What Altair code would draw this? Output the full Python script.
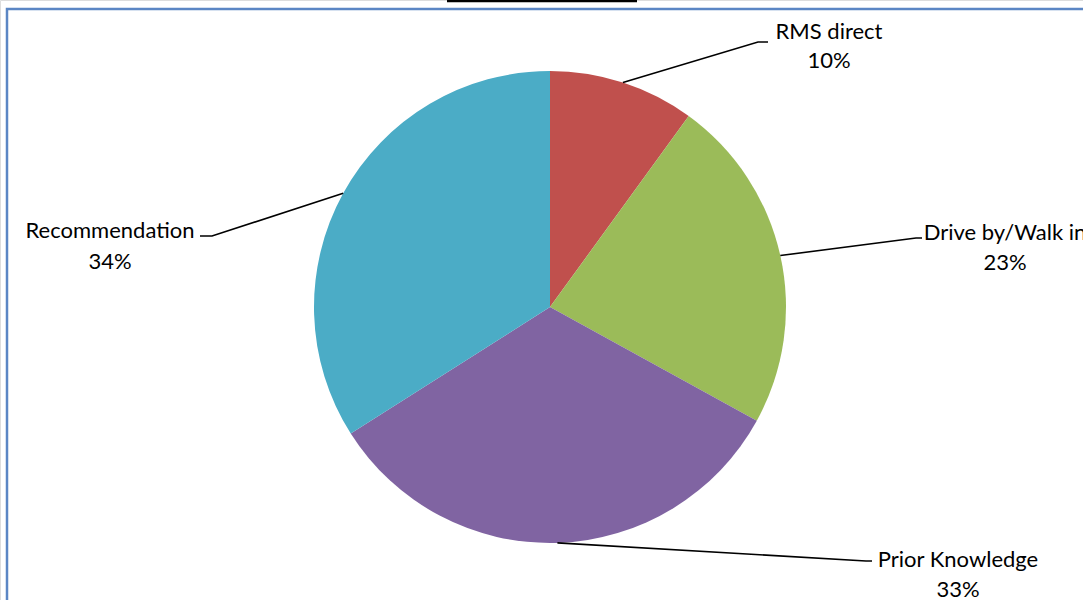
import math
import altair as alt
import pandas as pd

# ---- data ----
categories = ["RMS direct", "Drive by/Walk in", "Prior Knowledge", "Recommendation"]
shares = [10, 23, 33, 34]
colors = ["#C0504D", "#9BBB59", "#8064A2", "#4BACC6"]

# ---- layout ----
W, H = 1083, 600
CX, CY, R = 550, 307, 236
FONT = "Lato"
FS = 22
# text centre x, name-line y, percent-line y
label_layout = [(829, 32, 61), (1005, 233, 263), (958, 560, 590), (110, 231, 262)]
# leader elbow and end points
leader_layout = [((758, 42), (768, 42)),
                 ((916, 238), (922, 238)),
                 ((866, 561), (872, 561)),
                 ((212, 236), (200, 236))]

total = float(sum(shares))
pie_df = pd.DataFrame({"category": categories, "share": shares, "idx": list(range(len(shares)))})

line_rows, text_rows = [], []
cum = 0.0
for i, (cat, s) in enumerate(zip(categories, shares)):
    mid = (cum + s / 2.0) / total * 2 * math.pi
    cum += s
    ax, ay = CX + R * math.sin(mid), CY - R * math.cos(mid)
    (ex, ey), (fx, fy) = leader_layout[i]
    for k, (px, py) in enumerate([(ax, ay), (ex, ey), (fx, fy)]):
        line_rows.append({"category": cat, "k": k, "px": px, "py": py})
    tx, ny, py_ = label_layout[i]
    text_rows.append({"px": tx, "py": ny, "label": cat})
    text_rows.append({"px": tx, "py": py_, "label": f"{round(s / total * 100)}%"})

lines_df = pd.DataFrame(line_rows)
text_df = pd.DataFrame(text_rows)

xs = alt.Scale(domain=[0, W], range=[0, W])
ys = alt.Scale(domain=[0, H], range=[0, H])

border = alt.Chart(pd.DataFrame({"a": [0]})).mark_rect(
    fill=None, stroke="#5B86C4", strokeWidth=2.5
).encode(x=alt.value(7), x2=alt.value(W + 20), y=alt.value(9), y2=alt.value(H + 20))

underline = alt.Chart(pd.DataFrame({"a": [0]})).mark_rule(
    color="black", strokeWidth=2.5
).encode(x=alt.value(447), x2=alt.value(637), y=alt.value(1))

pie = alt.Chart(pie_df).mark_arc(outerRadius=R).encode(
    theta=alt.Theta("share:Q", stack=True),
    color=alt.Color("category:N", scale=alt.Scale(domain=categories, range=colors), legend=None),
    order=alt.Order("idx:Q"),
    x=alt.value(CX),
    y=alt.value(CY),
)

leaders = alt.Chart(lines_df).mark_line(color="black", strokeWidth=1.6).encode(
    x=alt.X("px:Q", scale=xs, axis=None),
    y=alt.Y("py:Q", scale=ys, axis=None),
    detail="category:N",
    order="k:Q",
)

labels = alt.Chart(text_df).mark_text(
    font=FONT, fontSize=FS, color="black", align="center", baseline="middle"
).encode(
    x=alt.X("px:Q", scale=xs, axis=None),
    y=alt.Y("py:Q", scale=ys, axis=None),
    text="label:N",
)

chart = alt.layer(border, underline, pie, leaders, labels).properties(
    width=W, height=H, autosize=alt.AutoSizeParams(type="none"), padding=0
).configure_view(stroke=None).configure(background="white")

chart.save("out.html", embed_options={"renderer": "svg", "actions": False})
